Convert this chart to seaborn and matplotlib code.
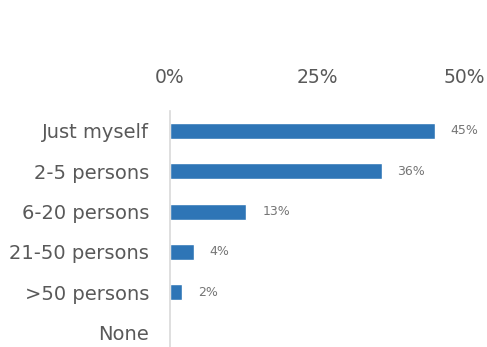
import matplotlib
matplotlib.use("Agg")
import matplotlib.pyplot as plt
import seaborn as sns
import pandas as pd

categories = ["Just myself", "2-5 persons", "6-20 persons", "21-50 persons", ">50 persons", "None"]
shares = [45, 36, 13, 4, 2, 0]
tick_values = [0, 25, 50]
tick_labels = ["0%", "25%", "50%"]

df = pd.DataFrame({"category": categories, "share": shares})

sns.set_theme(style="white")
plt.rcParams["font.family"] = ["DejaVu Sans"]

fig = plt.figure(figsize=(4.87, 3.47), dpi=100)
ax = fig.add_axes([170 / 487, -0.017, (464 - 170) / 487, 0.698])

sns.barplot(data=df, x="share", y="category", orient="h", color="#2E75B6",
            saturation=1, width=0.4, ax=ax)

ax.set_xlim(0, 50)
ax.set_ylim(5.5, -0.5)
ax.set_xticks(tick_values)
ax.set_xticklabels(tick_labels)
ax.xaxis.tick_top()
ax.tick_params(axis="x", length=0, pad=17, labelsize=13.5, labelcolor="#595959")
ax.tick_params(axis="y", length=0, pad=15, labelsize=14, labelcolor="#595959")
ax.set_xlabel("")
ax.set_ylabel("")

for side in ["top", "right", "bottom"]:
    ax.spines[side].set_visible(False)
ax.spines["left"].set_color("#D9D9D9")
ax.spines["left"].set_linewidth(1.2)

for i, v in enumerate(shares):
    if v > 0:
        ax.text(v + 2.7, i, f"{v}%", va="center", ha="left", fontsize=9, color="#757575")

fig.savefig("out.png", dpi=100)
